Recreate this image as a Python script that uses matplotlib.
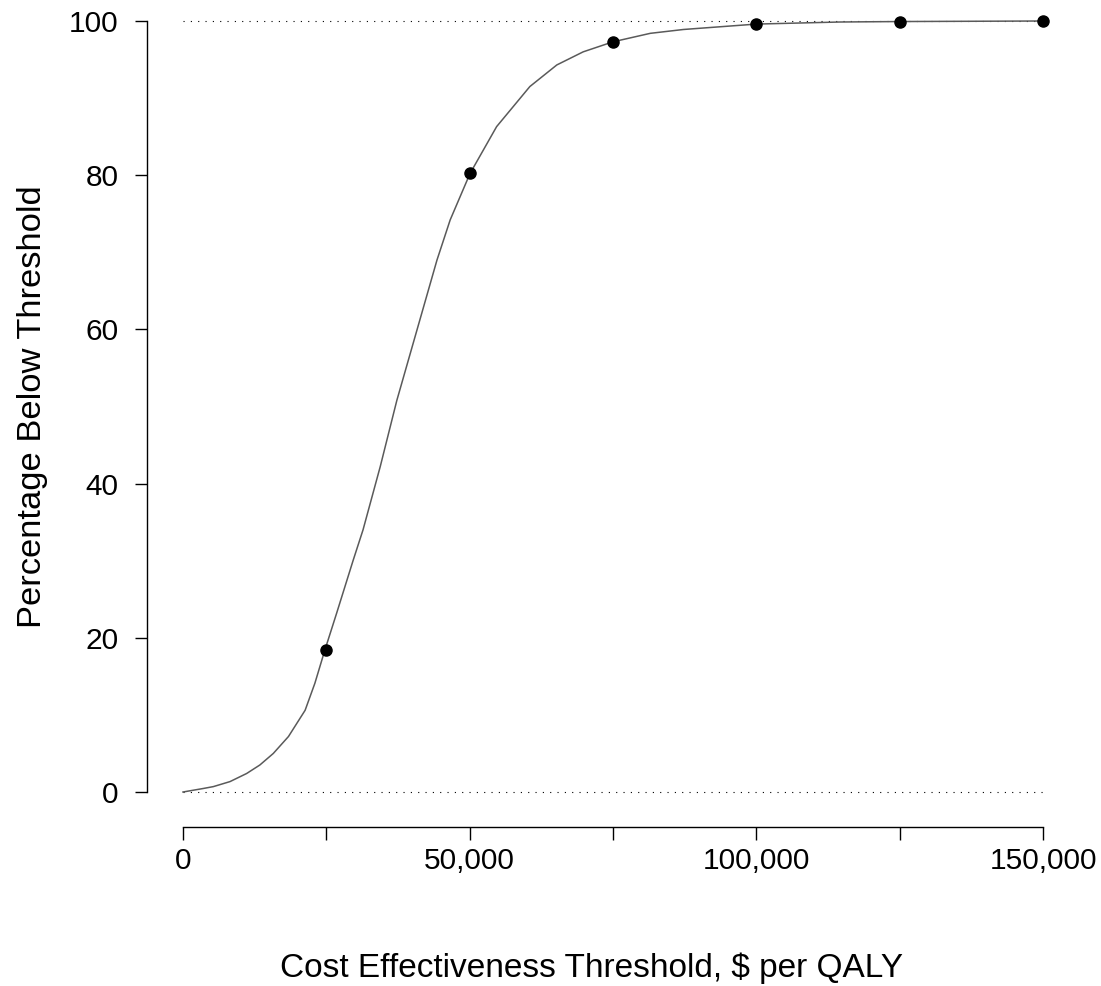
import matplotlib
matplotlib.use("Agg")
import matplotlib.pyplot as plt
from matplotlib.ticker import FixedLocator, FixedFormatter

# Smooth curve (threshold in $, percentage)
curve_x = [0, 3500, 5300, 8200, 11100, 13400, 15750, 18400, 21300, 23000,
           24700, 26800, 29700, 31400, 34400, 37300, 40800, 44300, 46600,
           50050, 54700, 60500, 65200, 69800, 75000, 81500, 87300, 100000,
           114600, 125000, 150000]
curve_y = [0.0, 0.45, 0.7, 1.35, 2.4, 3.5, 5.0, 7.2, 10.6, 14.1,
           18.3, 23.2, 30.1, 34.0, 42.2, 50.8, 59.9, 69.0, 74.2,
           80.2, 86.3, 91.5, 94.3, 96.0, 97.3, 98.4, 98.9, 99.6,
           99.87, 99.93, 100.0]

# Marked points
point_x = [25000, 50000, 75000, 100000, 125000, 150000]
point_y = [18.4, 80.3, 97.3, 99.6, 99.9, 100.0]

x_ticks = [0, 25000, 50000, 75000, 100000, 125000, 150000]
x_tick_labels = ["0", "", "50,000", "", "100,000", "", "150,000"]
y_ticks = [0, 20, 40, 60, 80, 100]
y_tick_labels = ["0", "20", "40", "60", "80", "100"]
ref_levels = [0, 100]

plt.rcParams['font.family'] = ['Liberation Sans', 'DejaVu Sans']

W, H = 1101, 986
fig = plt.figure(figsize=(W / 100, H / 100), dpi=100)
left, right, top, bottom = 183, 1043, 21, 792
ax = fig.add_axes([left / W, (H - bottom) / H, (right - left) / W, (bottom - top) / H])
ax.set_xlim(0, 150000)
ax.set_ylim(0, 100)

for lv in ref_levels:
    ax.plot([0, 150000], [lv, lv], color='black', lw=0.8,
            linestyle=(0, (1, 5.6)), clip_on=False)

ax.plot(curve_x, curve_y, color='#5a5a5a', lw=1.1, clip_on=False,
        solid_joinstyle='round')
ax.plot(point_x, point_y, 'o', color='black', markersize=8, clip_on=False)

for s in ['top', 'right']:
    ax.spines[s].set_visible(False)
ax.spines['left'].set_position(('outward', 36 * 0.72))
ax.spines['bottom'].set_position(('outward', 35 * 0.72))
ax.spines['left'].set_bounds(0, 100)
ax.spines['bottom'].set_bounds(0, 150000)
for s in ['left', 'bottom']:
    ax.spines[s].set_linewidth(1.0)

ax.xaxis.set_major_locator(FixedLocator(x_ticks))
ax.xaxis.set_major_formatter(FixedFormatter(x_tick_labels))
ax.yaxis.set_major_locator(FixedLocator(y_ticks))
ax.yaxis.set_major_formatter(FixedFormatter(y_tick_labels))
ax.tick_params(axis='x', length=9.5, width=1.0, pad=5, labelsize=21.5)
ax.tick_params(axis='y', length=8.6, width=1.0, pad=12, labelsize=21.5)

ax.set_xlabel("Cost Effectiveness Threshold, $ per QALY", fontsize=24, labelpad=56)
ax.xaxis.label.set_x((592 - left) / (right - left))
ax.set_ylabel("Percentage Below Threshold", fontsize=24.8, labelpad=15)

fig.savefig("out.png", dpi=100)
